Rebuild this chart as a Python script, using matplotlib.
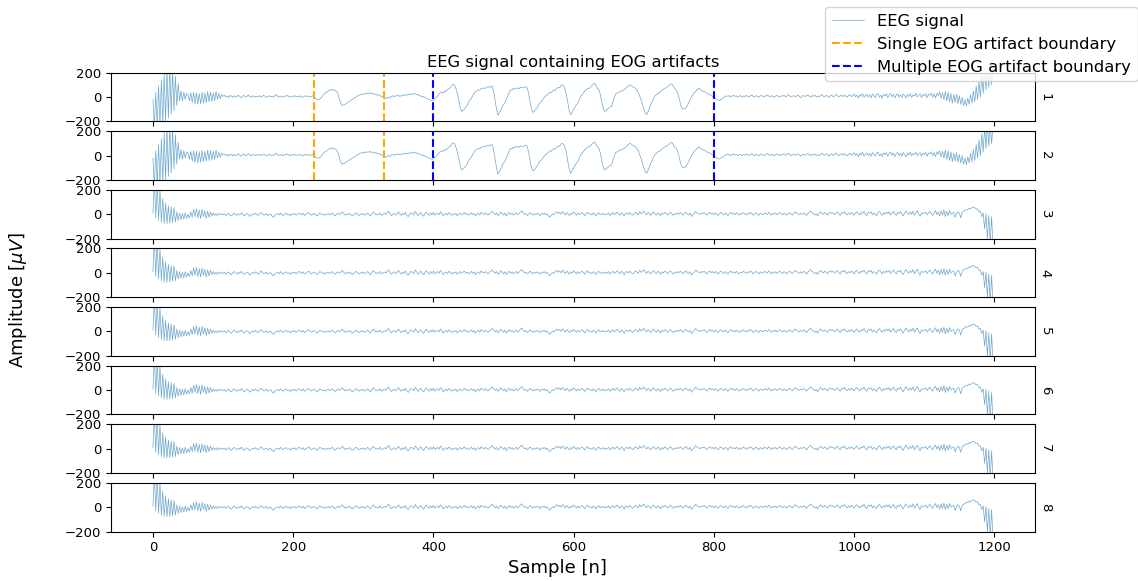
import numpy as np
import matplotlib
matplotlib.use("Agg")
import matplotlib.pyplot as plt

# EEG traces, one value every 2 samples (0..1198)
# channels 1-2 (frontal, carry the EOG artifacts)
frontal = [
    -20, -250, 40, -240, 90, -230, 140, -220, 190, -200, 240, -170, 250, -140, 220, -110, 170, -70, 110, -30, 50, -30, 40, -20, 30,
    20, -30, 35, -45, 40, -55, 35, -60, 30, -55, 40, -50, 35, -45, 45, -40, 40, -35, 35, -30, 45, -20, 30, -15, 20,
    5, 15, 0, 10, -5, 12, 8, -3, 10, 0, 6, 15, 2, -5, 8, 12, 0, 5, 18, 4, -2, 10, 6, 0, 8,
    3, 12, 0, 8, 15, 5, -4, 6, 10, 2, 8, 0, 12, 20, 5, 0, 8, 3, -2, 10, 6, 14, 4, 0, 7,
    5, 12, 2, 8, 0, 10, 4, -2, 6, 12, 3, 8, 0, 5, 10, 0, -10, -20, -22, -15, -5, 10, 25, 35, 40,
    50, 58, 64, 55, 60, 52, 45, 20, -20, -55, -70, -65, -60, -50, -45, -35, -30, -20, -15, -5, 0, 10, 15, 20, 25,
    22, 30, 25, 32, 28, 35, 25, 30, 20, 25, 15, 18, 10, 5, 0, -10, -15, -5, 0, -8, 5, 10, 2, 12, 8,
    15, 5, 10, 18, 12, 20, 15, 22, 18, 28, 20, 30, 25, 18, 22, 12, 8, 0, 5, -5, -10, -15, -20, -25, -30,
    -25, -15, -5, 10, 25, 35, 40, 35, 50, 45, 60, 70, 75, 95, 105, 100, 70, 30, -20, -80, -118, -110, -100, -85, -70,
    -40, -25, -10, 10, 30, 45, 50, 60, 55, 70, 72, 75, 70, 80, 85, 78, 90, 88, 40, -30, -100, -150, -130, -110, -80,
    -60, -45, -20, 10, 40, 60, 55, 70, 65, 75, 72, 68, 80, 75, 78, 82, 86, 70, 20, -50, -100, -126, -115, -100, -85,
    -60, -45, -36, -20, -5, 10, 18, 25, 40, 35, 50, 59, 55, 70, 80, 75, 95, 100, 90, 60, 10, -60, -120, -145, -120,
    -100, -80, -60, -50, -20, 10, 18, 35, 50, 60, 72, 70, 80, 95, 105, 113, 90, 72, 60, 20, -40, -90, -118, -110, -100,
    -90, -80, -77, -40, 0, 25, 32, 40, 45, 50, 53, 60, 70, 80, 90, 100, 95, 85, 80, 72, 60, 40, 10, -20, -60,
    -100, -130, -145, -120, -90, -60, -40, -10, 10, 20, 30, 35, 45, 55, 65, 72, 75, 85, 95, 105, 108, 90, 70, 59, 40,
    0, -50, -90, -99, -95, -90, -70, -50, -20, 0, 20, 37, 45, 60, 72, 65, 55, 48, 45, 40, 30, 26, 20, 15, 5,
    -5, -10, -20, -25, -28, -20, -15, -5, 5, 10, 5, 12, 0, 8, 15, 5, 10, -2, 6, 12, 0, 8, 4, 14, 6,
    2, 10, 16, 4, 0, 12, 6, -3, 8, 14, 5, 0, 10, 18, 8, 2, 12, 4, -2, 9, 15, 5, 0, 11, 6,
    14, 3, 8, 20, 10, 0, 6, 12, 2, 9, 16, 4, -4, 8, 13, 3, 10, 18, 6, 0, 12, 5, 15, 2, 8,
    0, 11, 20, 6, 3, 14, 8, -5, 10, 16, 2, 7, 22, 12, 0, 9, 15, 3, 18, 6, -2, 12, 20, 4, 10,
    25, 2, 15, -8, 20, 5, 28, -2, 12, 22, 0, 18, -6, 25, 10, -4, 20, 30, 0, 15, -10, 22, 8, 26, -5,
    18, 30, 2, 22, -8, 15, 28, 0, 20, -5, 25, 10, -10, 22, 5, 28, -2, 18, 8, 30, 0, 15, 24, -4, 20,
    10, 28, -5, 22, 15, 32, 0, 25, -8, 30, 12, 40, -10, 35, -20, 45, -30, 40, -40, 30, -50, 20, -45, 25, -55,
    10, -60, 0, -70, -20, -75, -10, -60, 20, -50, 50, -40, 90, -20, 130, 0, 180, 30, 230, 60, 250, 80, 260, 100, 250,
]

# channels 3-8 (no visible EOG)
posterior = [
    10, 280, -30, 260, -50, 200, -65, 130, -75, 90, -78, 70, -75, 60, -70, 55, -65, 20, -50, 10, -45, 5, -40, 10, -35,
    0, -30, 20, -25, 40, -20, 45, -30, 35, -35, 40, -20, 30, -35, 25, -25, 20, -15, 10, -10, 5, -12, 8, -5, 3,
    -5, 5, -12, 0, 8, -8, -15, 2, 10, -3, -10, 4, -6, 12, 0, -14, -4, 6, -2, -18, -8, 3, -5, 8, -2,
    -10, 0, 15, 5, -8, -2, 6, -12, -4, 2, -15, -25, -8, 0, 4, -6, 10, -3, -10, 2, 8, -5, 0, -12, 5,
    -2, 6, -8, 0, 12, 4, -6, 8, -10, -3, 5, 14, 2, -8, 0, 6, -4, -14, -2, 10, 4, -6, 2, -9, 0,
    5, -6, 3, 10, -4, -12, 0, 8, -3, 6, 20, 5, -8, 2, -5, 8, 0, -15, -6, 4, 12, -2, -10, 3, -4,
    6, -8, -2, 10, 0, -14, 4, 18, 8, -6, 2, -4, 12, -10, -3, 7, -1, 10, 25, 5, -12, -2, 8, -6, 0,
    20, 3, -10, 6, -5, 15, -8, -20, 0, 12, 4, -6, 22, 8, -12, 2, 14, -4, -16, 6, 18, 0, -10, 12, -6,
    15, -8, 2, 10, -4, 20, 6, -14, 0, 8, -6, 12, 4, -10, 2, -3, 8, -12, 0, 10, -5, 3, 16, -2, 6,
    -8, 0, 12, -4, 6, -14, 2, 8, -6, 15, 5, -2, 10, 0, -8, 6, 12, 25, 8, -4, 10, -12, 0, 18, 4,
    -6, 10, -15, 2, 14, -3, 8, -8, 0, 12, -5, 6, 18, 28, 10, -2, 6, -10, 2, 14, 0, -8, 5, -4, 8,
    2, -12, 6, 0, 10, -6, 4, -15, -25, -8, 2, -4, 12, 20, 6, 16, 0, 22, 8, -6, 14, 2, -10, 8, 0,
    18, 4, -8, 10, -4, 6, 14, 0, -12, 8, 16, -2, 4, -8, 10, 2, -14, 6, 12, -4, 0, 8, -6, 4, -2,
    10, -10, 2, 14, -4, 6, 18, 0, -8, 12, 4, -16, 6, 10, -2, 14, 2, -8, 0, 16, 8, -6, 22, 4, 12,
    26, 8, -4, 14, 2, -10, 10, 18, 0, -6, 12, 4, -12, 8, 0, 14, 6, -8, 4, 16, 2, -10, 6, -2, 10,
    0, 14, 4, -8, 8, 18, 2, -6, 10, -18, -4, 8, 24, 12, 6, -2, 10, 4, 14, 0, -8, 6, 16, 2, 10,
    -4, 12, 0, -10, 6, 14, 2, -6, 10, 4, -12, 6, 16, 0, 8, -4, 12, 2, -8, 6, 0, 14, 4, -6, 8,
    2, 16, 6, -8, 4, 12, 0, -10, 8, 2, -4, 12, 6, -2, 16, 4, -8, 8, 0, 10, -6, 6, 14, 2, -4,
    10, 0, -8, 6, 14, 2, -6, 8, 20, 10, 2, -4, 8, 0, 12, 4, -10, 6, 16, 26, 12, 2, -6, 4, -14,
    6, 20, 8, 0, 14, 4, -8, 10, 18, 6, 12, -4, 8, 20, 2, -10, 14, 6, 22, 4, -6, 10, 0, 16, 4,
    -8, 12, 20, 2, -6, 14, 6, 24, 0, -10, 16, 8, 20, -4, 10, 2, -12, 14, 22, 6, -8, 12, 0, 18, 4,
    20, -6, 10, 24, 2, -10, 16, 6, 22, 0, -14, 12, 28, 8, -4, 18, 2, 26, -8, 10, 30, 0, -18, 12, 4,
    8, 18, -6, 10, 24, 4, -10, 14, 30, -4, 20, -16, 28, -8, 35, -20, 25, -12, 30, 0, 10, 15, -25, 5, 20,
    10, -30, 15, 25, 30, 40, 35, 50, 45, 55, 60, 55, 40, 45, 20, 25, -20, 10, -120, 5, -200, -10, -240, -20, -260,
]

channels = ["1", "2", "3", "4", "5", "6", "7", "8"]
single_bounds = [230, 330]
multiple_bounds = [400, 800]
sample_step = 2

samples = np.arange(len(frontal)) * sample_step

fig, axes = plt.subplots(len(channels), 1, figsize=(11.38, 5.81), dpi=100, sharex=True)
fig.subplots_adjust(left=0.0975, right=0.9095, top=0.875, bottom=0.085, hspace=0.2)

for i, ax in enumerate(axes):
    sig = frontal if i < 2 else posterior
    eeg_line, = ax.plot(samples, sig, color="C0", lw=0.5, alpha=0.65, label="EEG signal")
    ax.set_ylim(-200, 200)
    ax.set_yticks([-200, 0, 200])
    ax.tick_params(labelsize=9.5)
    ax.text(1.004, 0.5, channels[i], transform=ax.transAxes, rotation=270,
            ha="left", va="center", fontsize=9.5)
    if i < 2:
        for b in single_bounds:
            single_line = ax.axvline(b, color="orange", ls="--", lw=1.5)
        for b in multiple_bounds:
            multi_line = ax.axvline(b, color="blue", ls="--", lw=1.5)
    if i == 0:
        handles = [eeg_line, single_line, multi_line]

axes[0].set_title("EEG signal containing EOG artifacts", fontsize=11.8, pad=4)
fig.text(0.49, 0.022, "Sample [n]", ha="center", va="center", fontsize=13)
fig.text(0.016, 0.484, r"Amplitude [$\mu V$]", ha="center", va="center", rotation=90, fontsize=13)

fig.legend(handles, ["EEG signal", "Single EOG artifact boundary", "Multiple EOG artifact boundary"],
           loc="upper right", bbox_to_anchor=(1.0, 0.988), borderaxespad=0, fontsize=11.8)

fig.savefig("out.png", dpi=100)
